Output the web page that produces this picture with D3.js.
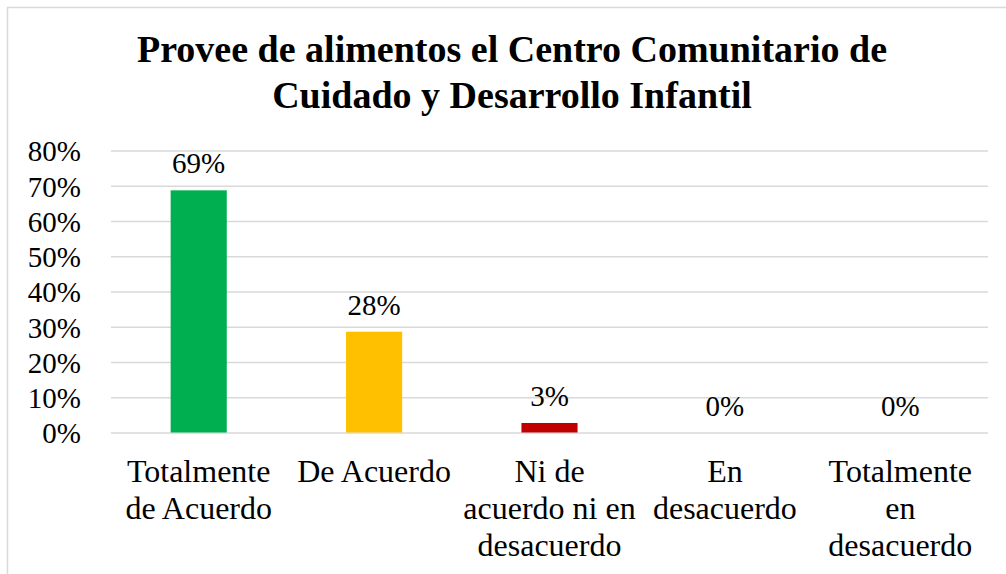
<!DOCTYPE html>
<html>
<head>
<meta charset="utf-8">
<script src="https://cdn.jsdelivr.net/npm/d3@7"></script>
<style>
  body { margin: 0; background: white; }
  svg text { font-family: "Liberation Serif", "Times New Roman", serif; fill: black; }
  .grid line { stroke: #d9d9d9; stroke-width: 1.3px; }
  .grid path { display: none; }
  .y.axis path, .y.axis line { display: none; }
  .y.axis text { font-size: 29px; }
  .cat { font-size: 32px; }
  .lbl { font-size: 29px; }
  .title { font-size: 38px; font-weight: bold; }
</style>
</head>
<body>
<svg id="svg" width="1006" height="574"></svg>
<script>
  var categories = [
    ["Totalmente", "de Acuerdo"],
    ["De Acuerdo"],
    ["Ni de", "acuerdo ni en", "desacuerdo"],
    ["En", "desacuerdo"],
    ["Totalmente", "en", "desacuerdo"]
  ];
  var values = [0.687, 0.286, 0.027, 0, 0];
  var valueLabels = ["69%", "28%", "3%", "0%", "0%"];
  var colors = ["#00B050", "#FFC000", "#C00000", "#4472C4", "#ED7D31"];
  var yTicks = [0, 0.1, 0.2, 0.3, 0.4, 0.5, 0.6, 0.7, 0.8];
  var titleLines = ["Provee de alimentos el Centro Comunitario de",
                    "Cuidado y Desarrollo Infantil"];

  var svg = d3.select("#svg");
  var plotLeft = 111, plotRight = 988, plotTop = 150.5, plotBottom = 432.5;

  // chart frame (only top/left edges visible in the picture)
  svg.append("rect")
    .attr("x", 7.5).attr("y", 7.5)
    .attr("width", 1020).attr("height", 600)
    .attr("fill", "white").attr("stroke", "#d9d9d9").attr("stroke-width", 1.5);

  var x = d3.scaleBand()
    .domain(d3.range(categories.length))
    .range([plotLeft, plotRight])
    .paddingInner(0.68).paddingOuter(0.34);

  var y = d3.scaleLinear().domain([0, 0.8]).range([plotBottom, plotTop]);

  svg.append("g")
    .attr("class", "grid")
    .attr("transform", "translate(" + plotLeft + ",0)")
    .call(d3.axisLeft(y).tickValues(yTicks).tickSize(-(plotRight - plotLeft)).tickFormat(""));

  svg.append("g")
    .attr("class", "y axis")
    .attr("transform", "translate(81,0)")
    .call(d3.axisLeft(y).tickValues(yTicks).tickSize(0).tickPadding(0)
      .tickFormat(d3.format(".0%")))
    .selectAll("text").attr("dy", "0.36em");

  svg.selectAll(".bar")
    .data(values)
    .enter().append("rect")
    .attr("class", "bar")
    .attr("x", function(d, i) { return x(i); })
    .attr("width", x.bandwidth())
    .attr("y", function(d) { return y(d); })
    .attr("height", function(d) { return plotBottom - y(d); })
    .attr("fill", function(d, i) { return colors[i]; });

  svg.selectAll(".lbl")
    .data(values)
    .enter().append("text")
    .attr("class", "lbl")
    .attr("text-anchor", "middle")
    .attr("x", function(d, i) { return x(i) + x.bandwidth() / 2; })
    .attr("y", function(d) { return y(d) - 17; })
    .text(function(d, i) { return valueLabels[i]; });

  var cats = svg.selectAll(".cat")
    .data(categories)
    .enter().append("text")
    .attr("class", "cat")
    .attr("text-anchor", "middle")
    .attr("transform", function(d, i) {
      return "translate(" + (x(i) + x.bandwidth() / 2) + ",482)";
    });
  cats.selectAll("tspan")
    .data(function(d) { return d; })
    .enter().append("tspan")
    .attr("x", 0)
    .attr("y", function(d, i) { return i * 36.8; })
    .text(function(d) { return d; });

  svg.selectAll(".title")
    .data(titleLines)
    .enter().append("text")
    .attr("class", "title")
    .attr("text-anchor", "middle")
    .attr("x", 512)
    .attr("y", function(d, i) { return 62 + i * 46; })
    .text(function(d) { return d; });
</script>
</body>
</html>
